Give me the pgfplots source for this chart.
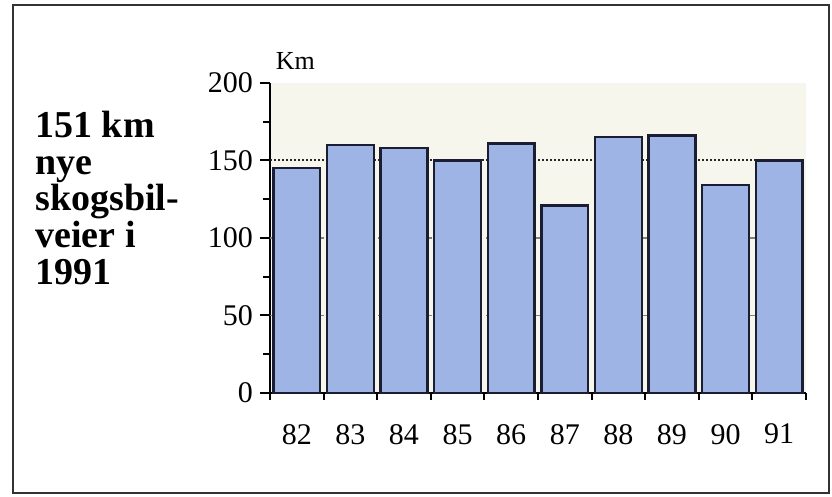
\documentclass[border=0pt]{standalone}
\usepackage{pgfplots}
\pgfplotsset{compat=1.18}
\usepackage{fontspec}
\setmainfont{Liberation Serif}
\definecolor{barfill}{HTML}{9DB4E4}
\definecolor{barline}{HTML}{1B1E33}
\definecolor{plotbg}{HTML}{F6F6EC}
\begin{document}
\begin{tikzpicture}
% page size and outer frame
\path (0,0) rectangle (416pt,248.5pt);
\draw[line width=0.8pt, black!80] (6.5pt,2pt) rectangle (414.5pt,246pt);
\node[anchor=north west, align=left, font=\fontsize{19}{18.3}\selectfont\bfseries, inner sep=0pt]
  at (17.5pt,193pt) {151 km\\nye\\skogsbil-\\veier i\\1991};
\begin{axis}[
  at={(135pt,52pt)}, anchor=origin,
  scale only axis, width=268pt, height=155pt,
  xmin=81.5, xmax=91.5, ymin=0, ymax=200,
  axis x line*=bottom, axis y line*=left,
  axis line style={line width=1pt, black},
  axis background/.style={fill=plotbg},
  xtick={82,...,91},
  xticklabel style={yshift=-7pt},
  major x tick style={draw=none},
  minor xtick={81.5,82.5,...,91.5},
  ytick={0,50,...,200},
  minor ytick={25,75,125,175},
  tick align=outside,
  major tick length=5pt, minor tick length=3.5pt,
  every tick/.style={black, line width=1pt},
  tick label style={font=\fontsize{15}{16}\selectfont},
  /pgf/number format/assume math mode=true,
  clip=false,
]
\addplot[black!50, dashed, line width=0.6pt, forget plot] coordinates {(81.5,50) (91.5,50)};
\addplot[black!50, dashed, line width=0.6pt, forget plot] coordinates {(81.5,100) (91.5,100)};
\addplot[black!85, densely dotted, line width=1pt, forget plot] coordinates {(81.5,150) (91.5,150)};
\addplot[ybar, bar width=0.87, fill=barfill, draw=barline, line width=1.2pt]
  coordinates {(82,145) (83,160) (84,158) (85,150) (86,161)
               (87,121) (88,165) (89,166) (90,134) (91,150)};
\node[anchor=base west, font=\fontsize{13}{14}\selectfont, inner sep=0pt]
  at (rel axis cs:0.01,1) [yshift=6.5pt] {Km};
\end{axis}
\end{tikzpicture}
\end{document}
